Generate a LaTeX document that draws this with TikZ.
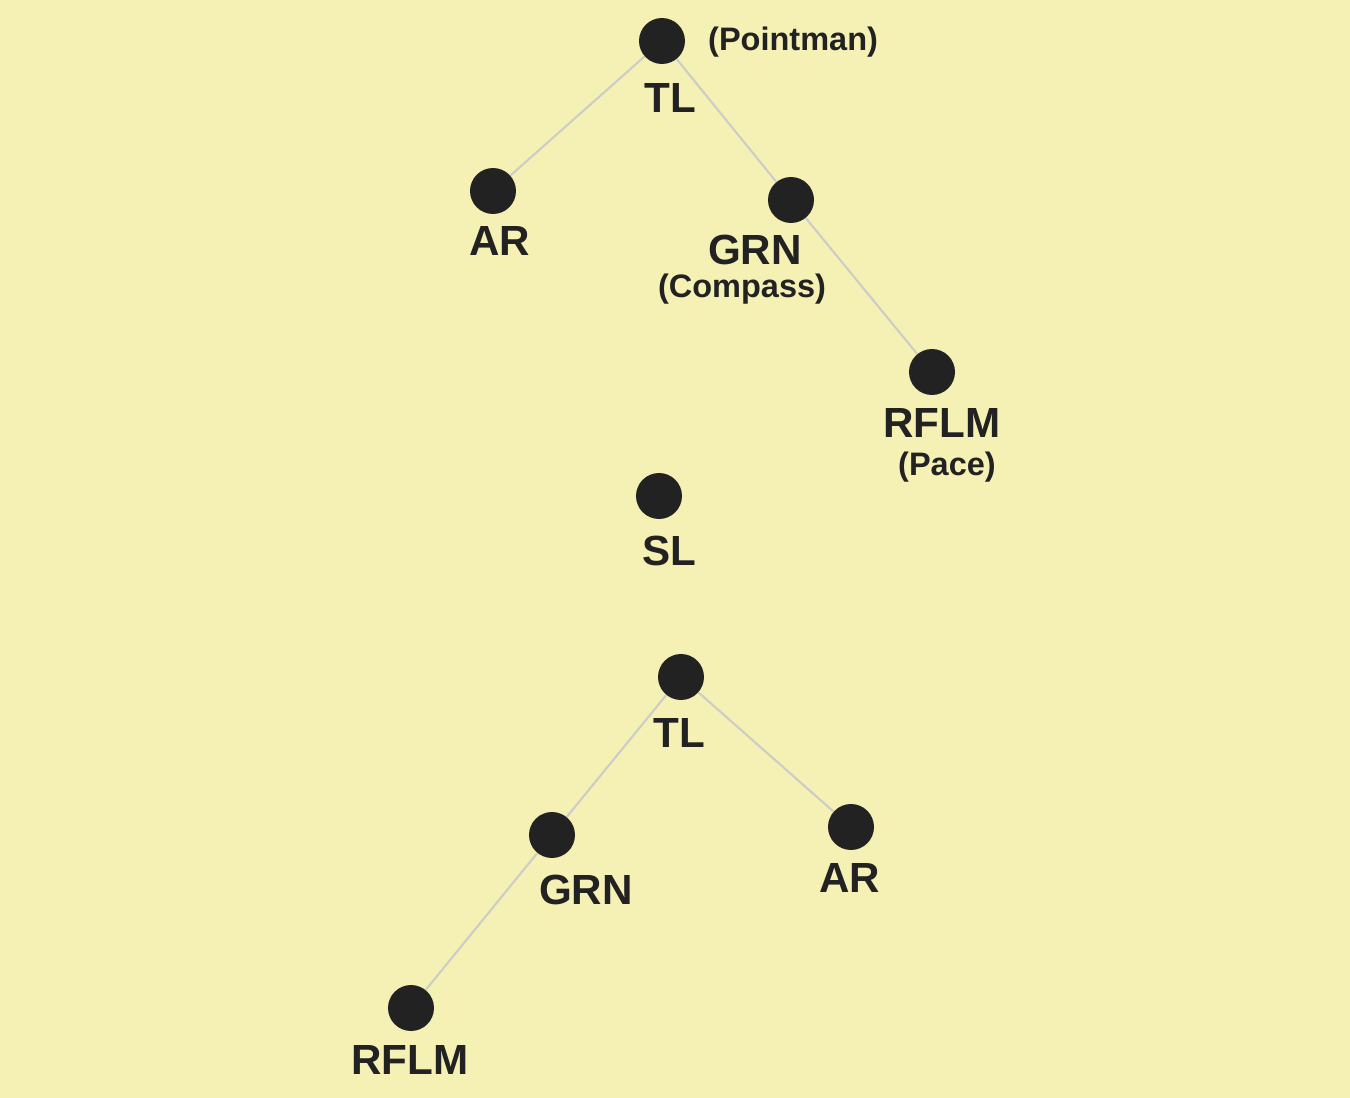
\documentclass[tikz,border=0pt]{standalone}
\usepackage{fontspec}
\setmainfont{Liberation Sans}
\usetikzlibrary{positioning, backgrounds}
\definecolor{bgcolor}{RGB}{245,240,180}
\definecolor{dotcolor}{RGB}{34,34,34}
\definecolor{linkcolor}{RGB}{205,205,200}

\begin{document}
\begin{tikzpicture}[
    x=0.02cm, y=-0.02cm,
    man/.style={circle, fill=dotcolor, minimum size=0.92cm, inner sep=0pt},
    role/.style={font=\fontsize{24}{26}\selectfont\bfseries, text=dotcolor},
    note/.style={font=\fontsize{18.5}{20}\selectfont\bfseries, text=dotcolor},
    link/.style={draw=linkcolor, line width=1.2pt}
]
    \useasboundingbox (0,0) rectangle (1350,1098);

    % Fire team one
    \node[man] (tlA) at (662,41) {};
    \node[man] (arA) at (493,191) {};
    \node[man] (grnA) at (791,200) {};
    \node[man] (rflmA) at (932,372) {};

    % Squad leader
    \node[man] (sl) at (659,496) {};

    % Fire team two
    \node[man] (tlB) at (681,677) {};
    \node[man] (grnB) at (552,835) {};
    \node[man] (arB) at (851,827) {};
    \node[man] (rflmB) at (411,1008) {};

    % Links
    \begin{scope}[on background layer]
    \fill[bgcolor] (0,0) rectangle (1350,1098);
    \draw[link] (tlA) -- (arA);
    \draw[link] (tlA) -- (grnA);
    \draw[link] (grnA) -- (rflmA);
    \draw[link] (tlB) -- (grnB);
    \draw[link] (tlB) -- (arB);
    \draw[link] (grnB) -- (rflmB);
    \end{scope}

    % Labels
    \node[role] (tlAlbl) at (670,98) {TL};
    \node[note, anchor=west] (tlAnote) at (702,42) {(Pointman)};
    \node[role] (arAlbl) at (500,241) {AR};
    \node[role] (grnAlbl) at (755,250) {GRN};
    \node[note] (grnAnote) at (742,289) {(Compass)};
    \node[role] (rflmAlbl) at (942,423) {RFLM};
    \node[note] (rflmAnote) at (947,467) {(Pace)};
    \node[role] (sllbl) at (669,551) {SL};
    \node[role] (tlBlbl) at (679,733) {TL};
    \node[role] (grnBlbl) at (586,890) {GRN};
    \node[role] (arBlbl) at (850,878) {AR};
    \node[role] (rflmBlbl) at (410,1060) {RFLM};
\end{tikzpicture}
\end{document}
